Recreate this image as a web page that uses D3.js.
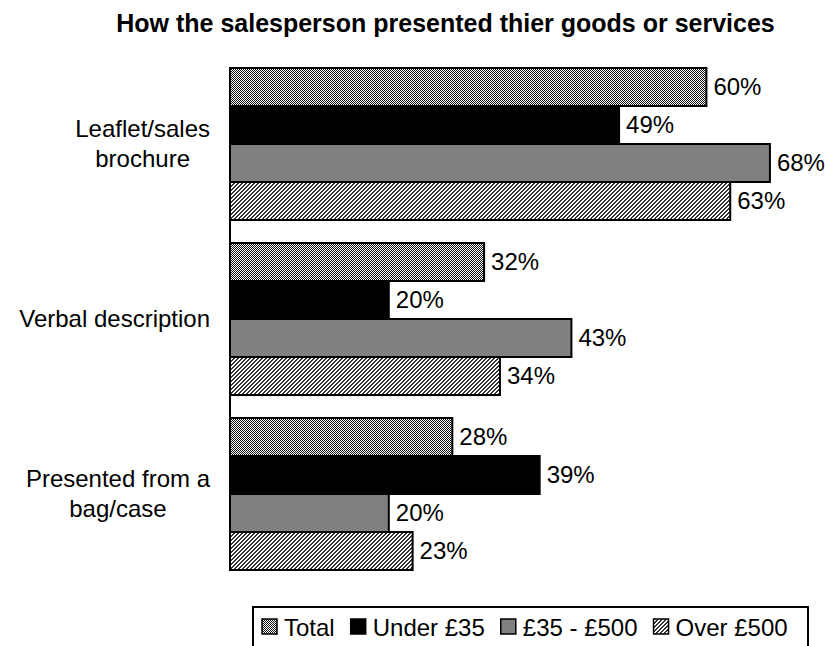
<!DOCTYPE html>
<html>
<head>
<meta charset="utf-8">
<script src="https://cdn.jsdelivr.net/npm/d3@7"></script>
<style>
  html, body { margin: 0; padding: 0; background: #fff; }
  svg { display: block; }
  text { font-family: "Liberation Sans", Arial, sans-serif; fill: #000; }
</style>
</head>
<body>
<svg id="chart" width="825" height="646"></svg>
<script>
// Survey results: how the salesperson presented their goods or services
const categories = [["Leaflet/sales", "brochure"], ["Verbal description"], ["Presented from a", "bag/case"]];
const seriesNames = ["Total", "Under £35", "£35 - £500", "Over £500"];
const total = [60, 32, 28];
const under35 = [49, 20, 39];
const mid35to500 = [68, 43, 20];
const over500 = [63, 34, 23];
const titleText = "How the salesperson presented thier goods or services";

const seriesValues = [total, under35, mid35to500, over500];
const catKeys = categories.map(c => c.join(" "));

const svg = d3.select("#chart");
const defs = svg.append("defs");

// Fine checker fill for "Total"
const checker = defs.append("pattern").attr("id", "pat-total")
  .attr("patternUnits", "userSpaceOnUse").attr("width", 2).attr("height", 2);
checker.append("rect").attr("width", 2).attr("height", 2).attr("fill", "#fff");
checker.append("rect").attr("x", 0).attr("y", 0).attr("width", 1).attr("height", 1).attr("fill", "#111");
checker.append("rect").attr("x", 1).attr("y", 1).attr("width", 1).attr("height", 1).attr("fill", "#111");

// Upward diagonal hatch for "Over £500"
const hatch = defs.append("pattern").attr("id", "pat-over")
  .attr("patternUnits", "userSpaceOnUse").attr("width", 4).attr("height", 4);
hatch.append("rect").attr("width", 4).attr("height", 4).attr("fill", "#fff");
for (let px = 0; px < 4; px++) {
  for (let py = 0; py < 4; py++) {
    if ((px + py) % 4 < 2) {
      hatch.append("rect").attr("x", px).attr("y", py).attr("width", 1).attr("height", 1).attr("fill", "#333");
    }
  }
}

const fills = ["url(#pat-total)", "#000", "#808080", "url(#pat-over)"];

// Scales
const x = d3.scaleLinear().domain([0, 70]).range([230, 785.8]);
const y0 = d3.scaleBand().domain(catKeys).range([56.5, 581.5])
  .paddingInner(23 / 175).paddingOuter(23 / 350);
const y1 = d3.scaleBand().domain(seriesNames).range([0, y0.bandwidth()]);

// Title
svg.append("text")
  .attr("x", 445.5).attr("y", 32)
  .attr("text-anchor", "middle")
  .style("font-size", "25px").style("font-weight", "bold")
  .text(titleText);

// Bars
const groups = svg.append("g").selectAll("g")
  .data(catKeys).join("g")
  .attr("transform", d => `translate(0,${y0(d)})`);

groups.each(function(key, ci) {
  const g = d3.select(this);
  const rows = seriesNames.map((s, si) => ({ s, si, v: seriesValues[si][ci] }));
  g.selectAll("rect").data(rows).join("rect")
    .attr("x", x(0))
    .attr("y", d => y1(d.s))
    .attr("width", d => x(d.v) - x(0))
    .attr("height", y1.bandwidth())
    .attr("fill", d => fills[d.si])
    .attr("stroke", "#000")
    .attr("stroke-width", 2);
  g.selectAll("text.val").data(rows).join("text")
    .attr("class", "val")
    .attr("x", d => x(d.v) + 7)
    .attr("y", d => y1(d.s) + y1.bandwidth() / 2)
    .attr("dy", "0.35em")
    .style("font-size", "24px")
    .text(d => d.v + "%");
});

// Category axis line
svg.append("line")
  .attr("x1", x(0)).attr("x2", x(0))
  .attr("y1", y0(catKeys[0])).attr("y2", y0(catKeys[2]) + y0.bandwidth())
  .attr("stroke", "#000").attr("stroke-width", 2);

// Category labels: each block centred on itself, blocks right-aligned to the axis
const labelRight = 210;
const lineGap = 30;
categories.forEach((lines, ci) => {
  const cy = y0(catKeys[ci]) + y0.bandwidth() / 2;
  const t = svg.append("text").style("font-size", "24px").attr("text-anchor", "middle");
  const spans = lines.map((ln, li) => t.append("tspan")
    .attr("y", cy + (li - (lines.length - 1) / 2) * lineGap)
    .attr("dy", "0.35em")
    .text(ln));
  const maxW = d3.max(spans, s => s.node().getComputedTextLength());
  spans.forEach(s => s.attr("x", labelRight - maxW / 2));
});

// Legend
const legend = svg.append("g");
legend.append("rect")
  .attr("x", 253).attr("y", 607).attr("width", 555).attr("height", 60)
  .attr("fill", "#fff").attr("stroke", "#000").attr("stroke-width", 2);
let lx = 262;
seriesNames.forEach((name, si) => {
  legend.append("rect")
    .attr("x", lx).attr("y", 619).attr("width", 15).attr("height", 15)
    .attr("fill", fills[si]).attr("stroke", "#000").attr("stroke-width", 1.5);
  const t = legend.append("text")
    .attr("x", lx + 22).attr("y", 636)
    .style("font-size", "24px").text(name);
  lx += 22 + t.node().getComputedTextLength() + 16;
});
</script>
</body>
</html>
